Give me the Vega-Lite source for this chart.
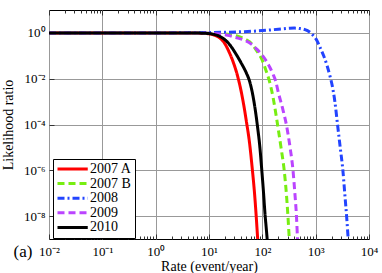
{
  "$schema": "https://vega.github.io/schema/vega-lite/v6.json",
  "width": 320,
  "height": 229,
  "autosize": {"type": "none"},
  "padding": {"left": 49, "top": 10, "right": 13, "bottom": 34},
  "background": "white",
  "config": {
    "view": {"stroke": "black", "strokeWidth": 1},
    "font": "Liberation Serif",
    "axis": {
      "labelFont": "Liberation Serif",
      "titleFont": "Liberation Serif",
      "labelFontSize": 13,
      "titleFontSize": 14,
      "titleFontWeight": "normal",
      "labelColor": "black",
      "titleColor": "black",
      "domain": false,
      "gridColor": "#999999",
      "gridOpacity": 1,
      "gridWidth": 1,
      "tickColor": "#333333",
      "labelOverlap": false,
      "labelFlush": false,
      "labelBound": false
    },
    "legend": {
      "symbolType": "M-1,0H4.5",
      "symbolSize": 121,
      "symbolStrokeWidth": 3,
      "labelFont": "Liberation Serif",
      "labelFontSize": 14,
      "labelColor": "black",
      "labelOffset": 20,
      "padding": 3,
      "rowPadding": 0.6,
      "strokeColor": "black",
      "fillColor": "white",
      "cornerRadius": 0
    }
  },
  "layer": [
    {
      "data": {
        "values": [
          {"series": "2007 A", "rate": 0.01, "ratio": 1},
          {"series": "2007 A", "rate": 1, "ratio": 1},
          {"series": "2007 A", "rate": 3.162, "ratio": 0.9977},
          {"series": "2007 A", "rate": 6.31, "ratio": 0.977},
          {"series": "2007 A", "rate": 10, "ratio": 0.912},
          {"series": "2007 A", "rate": 12.59, "ratio": 0.794},
          {"series": "2007 A", "rate": 15.85, "ratio": 0.603},
          {"series": "2007 A", "rate": 19.95, "ratio": 0.331},
          {"series": "2007 A", "rate": 23.99, "ratio": 0.141},
          {"series": "2007 A", "rate": 28.18, "ratio": 0.0562},
          {"series": "2007 A", "rate": 33.11, "ratio": 0.0178},
          {"series": "2007 A", "rate": 37.15, "ratio": 0.00631},
          {"series": "2007 A", "rate": 43.65, "ratio": 0.001},
          {"series": "2007 A", "rate": 50.12, "ratio": 1.41e-4},
          {"series": "2007 A", "rate": 57.54, "ratio": 1.58e-5},
          {"series": "2007 A", "rate": 64.57, "ratio": 1.26e-6},
          {"series": "2007 A", "rate": 70.79, "ratio": 1.26e-7},
          {"series": "2007 A", "rate": 76.74, "ratio": 1e-8},
          {"series": "2007 A", "rate": 81.28, "ratio": 1.26e-9},
          {"series": "2007 A", "rate": 85.11, "ratio": 2.51e-10},

          {"series": "2007 B", "rate": 0.01, "ratio": 1},
          {"series": "2007 B", "rate": 1, "ratio": 1},
          {"series": "2007 B", "rate": 6.31, "ratio": 0.9931},
          {"series": "2007 B", "rate": 10, "ratio": 0.977},
          {"series": "2007 B", "rate": 15.85, "ratio": 0.933},
          {"series": "2007 B", "rate": 25.12, "ratio": 0.832},
          {"series": "2007 B", "rate": 35.48, "ratio": 0.708},
          {"series": "2007 B", "rate": 50.12, "ratio": 0.501},
          {"series": "2007 B", "rate": 63.1, "ratio": 0.339},
          {"series": "2007 B", "rate": 79.43, "ratio": 0.158},
          {"series": "2007 B", "rate": 100, "ratio": 0.0631},
          {"series": "2007 B", "rate": 117.5, "ratio": 0.0224},
          {"series": "2007 B", "rate": 131.8, "ratio": 0.01},
          {"series": "2007 B", "rate": 158.5, "ratio": 0.00158},
          {"series": "2007 B", "rate": 192.8, "ratio": 1e-4},
          {"series": "2007 B", "rate": 223.9, "ratio": 1e-5},
          {"series": "2007 B", "rate": 257, "ratio": 1e-6},
          {"series": "2007 B", "rate": 281.8, "ratio": 1e-7},
          {"series": "2007 B", "rate": 302, "ratio": 1e-8},
          {"series": "2007 B", "rate": 319.9, "ratio": 1e-9},
          {"series": "2007 B", "rate": 331.1, "ratio": 2.51e-10},

          {"series": "2008", "rate": 0.01, "ratio": 1},
          {"series": "2008", "rate": 1, "ratio": 1},
          {"series": "2008", "rate": 3.162, "ratio": 1.007},
          {"series": "2008", "rate": 10, "ratio": 1.035},
          {"series": "2008", "rate": 31.62, "ratio": 1.096},
          {"series": "2008", "rate": 100, "ratio": 1.259},
          {"series": "2008", "rate": 199.5, "ratio": 1.445},
          {"series": "2008", "rate": 316.2, "ratio": 1.585},
          {"series": "2008", "rate": 398.1, "ratio": 1.622},
          {"series": "2008", "rate": 501.2, "ratio": 1.549},
          {"series": "2008", "rate": 631, "ratio": 1.38},
          {"series": "2008", "rate": 758.6, "ratio": 1.122},
          {"series": "2008", "rate": 891.3, "ratio": 0.794},
          {"series": "2008", "rate": 1047, "ratio": 0.479},
          {"series": "2008", "rate": 1202, "ratio": 0.24},
          {"series": "2008", "rate": 1413, "ratio": 0.1},
          {"series": "2008", "rate": 1622, "ratio": 0.0398},
          {"series": "2008", "rate": 1862, "ratio": 0.0126},
          {"series": "2008", "rate": 2042, "ratio": 0.00501},
          {"series": "2008", "rate": 2291, "ratio": 0.001},
          {"series": "2008", "rate": 2570, "ratio": 1e-4},
          {"series": "2008", "rate": 2884, "ratio": 1e-5},
          {"series": "2008", "rate": 3236, "ratio": 1e-6},
          {"series": "2008", "rate": 3508, "ratio": 1e-7},
          {"series": "2008", "rate": 3802, "ratio": 1e-8},
          {"series": "2008", "rate": 4074, "ratio": 1e-9},
          {"series": "2008", "rate": 4266, "ratio": 2.51e-10},

          {"series": "2009", "rate": 0.01, "ratio": 1},
          {"series": "2009", "rate": 1, "ratio": 1},
          {"series": "2009", "rate": 6.31, "ratio": 0.9886},
          {"series": "2009", "rate": 10, "ratio": 0.966},
          {"series": "2009", "rate": 15.85, "ratio": 0.891},
          {"series": "2009", "rate": 25.12, "ratio": 0.741},
          {"series": "2009", "rate": 31.62, "ratio": 0.631},
          {"series": "2009", "rate": 43.65, "ratio": 0.501},
          {"series": "2009", "rate": 63.1, "ratio": 0.316},
          {"series": "2009", "rate": 79.43, "ratio": 0.1905},
          {"series": "2009", "rate": 100, "ratio": 0.1047},
          {"series": "2009", "rate": 120.2, "ratio": 0.0562},
          {"series": "2009", "rate": 138, "ratio": 0.0316},
          {"series": "2009", "rate": 158.5, "ratio": 0.0158},
          {"series": "2009", "rate": 177.8, "ratio": 0.00794},
          {"series": "2009", "rate": 199.5, "ratio": 0.00251},
          {"series": "2009", "rate": 239.9, "ratio": 5.01e-4},
          {"series": "2009", "rate": 281.8, "ratio": 1e-4},
          {"series": "2009", "rate": 331.1, "ratio": 1e-5},
          {"series": "2009", "rate": 375.8, "ratio": 1e-6},
          {"series": "2009", "rate": 407.4, "ratio": 1e-7},
          {"series": "2009", "rate": 436.5, "ratio": 1e-8},
          {"series": "2009", "rate": 457.1, "ratio": 1e-9},
          {"series": "2009", "rate": 473.2, "ratio": 2.51e-10},

          {"series": "2010", "rate": 0.01, "ratio": 1},
          {"series": "2010", "rate": 1, "ratio": 1},
          {"series": "2010", "rate": 3.162, "ratio": 0.9977},
          {"series": "2010", "rate": 6.31, "ratio": 0.9817},
          {"series": "2010", "rate": 10, "ratio": 0.933},
          {"series": "2010", "rate": 12.59, "ratio": 0.851},
          {"series": "2010", "rate": 15.85, "ratio": 0.708},
          {"series": "2010", "rate": 19.95, "ratio": 0.501},
          {"series": "2010", "rate": 25.12, "ratio": 0.282},
          {"series": "2010", "rate": 31.62, "ratio": 0.126},
          {"series": "2010", "rate": 39.81, "ratio": 0.0501},
          {"series": "2010", "rate": 50.12, "ratio": 0.0178},
          {"series": "2010", "rate": 57.54, "ratio": 0.00794},
          {"series": "2010", "rate": 66.07, "ratio": 0.002},
          {"series": "2010", "rate": 74.13, "ratio": 3.98e-4},
          {"series": "2010", "rate": 81.28, "ratio": 7.94e-5},
          {"series": "2010", "rate": 89.13, "ratio": 1.26e-5},
          {"series": "2010", "rate": 97.72, "ratio": 1e-6},
          {"series": "2010", "rate": 104.7, "ratio": 1.26e-7},
          {"series": "2010", "rate": 112.2, "ratio": 1.26e-8},
          {"series": "2010", "rate": 120.2, "ratio": 2e-9},
          {"series": "2010", "rate": 128.8, "ratio": 2.51e-10}
        ]
      },
      "mark": {"type": "line", "strokeWidth": 3, "clip": true, "interpolate": "monotone"},
      "encoding": {
        "x": {
          "field": "rate",
          "type": "quantitative",
          "scale": {"type": "log", "domain": [0.01, 10000], "nice": false},
          "axis": {
            "orient": "bottom",
            "title": "Rate (event/year)",
            "values": [0.01,0.02,0.03,0.04,0.05,0.06,0.07,0.08,0.09,0.1,0.2,0.3,0.4,0.5,0.6,0.7,0.8,0.9,1,2,3,4,5,6,7,8,9,10,20,30,40,50,60,70,80,90,100,200,300,400,500,600,700,800,900,1000,2000,3000,4000,5000,6000,7000,8000,9000,10000],
            "labelExpr": "abs(log(datum.value)/LN10 - round(log(datum.value)/LN10)) > 0.001 ? '' : round(log(datum.value)/LN10) == -2 ? '10⁻²' : round(log(datum.value)/LN10) == -1 ? '10⁻¹' : round(log(datum.value)/LN10) == 0 ? '10⁰' : round(log(datum.value)/LN10) == 1 ? '10¹' : round(log(datum.value)/LN10) == 2 ? '10²' : round(log(datum.value)/LN10) == 3 ? '10³' : '10⁴'",
            "grid": true,
            "gridOpacity": {"condition": {"test": "abs(log(datum.value)/LN10 - round(log(datum.value)/LN10)) < 0.001", "value": 1}, "value": 0},
            "tickSize": {"condition": {"test": "abs(log(datum.value)/LN10 - round(log(datum.value)/LN10)) < 0.001", "value": -5}, "value": -3},
            "labelPadding": 11,
            "titlePadding": -1
          }
        },
        "y": {
          "field": "ratio",
          "type": "quantitative",
          "scale": {"type": "log", "domain": [1e-9, 10], "nice": false},
          "axis": {
            "title": "Likelihood ratio",
            "values": [1, 0.01, 0.0001, 0.000001, 0.00000001],
            "labelExpr": "datum.value > 0.5 ? '10⁰' : datum.value > 0.005 ? '10⁻²' : datum.value > 0.00005 ? '10⁻⁴' : datum.value > 0.0000005 ? '10⁻⁶' : '10⁻⁸'",
            "grid": true,
            "tickSize": -5,
            "labelPadding": 9,
            "titlePadding": 8
          }
        },
        "color": {
          "field": "series",
          "type": "nominal",
          "scale": {"domain": ["2007 A", "2007 B", "2008", "2009", "2010"], "range": ["#ff0000", "#77ee11", "#2244ff", "#bb44ff", "#000000"]},
          "legend": {"title": null, "orient": "none", "legendX": 4, "legendY": 149}
        },
        "strokeDash": {
          "field": "series",
          "type": "nominal",
          "scale": {"domain": ["2007 A", "2007 B", "2008", "2009", "2010"], "range": [[1, 0], [7, 4], [7, 3, 2, 3], [7, 4], [1, 0]]},
          "legend": {"title": null, "orient": "none", "legendX": 4, "legendY": 149}
        }
      }
    },
    {
      "data": {"values": [{"label": "(a)"}]},
      "mark": {"type": "text", "font": "Liberation Serif", "fontSize": 17, "align": "center", "baseline": "middle", "dx": -26, "dy": 13, "color": "black"},
      "encoding": {
        "x": {
          "datum": 0.01,
          "type": "quantitative",
          "axis": {
            "orient": "top",
            "title": null,
            "labels": false,
            "grid": false,
            "values": [0.01,0.02,0.03,0.04,0.05,0.06,0.07,0.08,0.09,0.1,0.2,0.3,0.4,0.5,0.6,0.7,0.8,0.9,1,2,3,4,5,6,7,8,9,10,20,30,40,50,60,70,80,90,100,200,300,400,500,600,700,800,900,1000,2000,3000,4000,5000,6000,7000,8000,9000,10000],
            "tickSize": {"condition": {"test": "abs(log(datum.value)/LN10 - round(log(datum.value)/LN10)) < 0.001", "value": -5}, "value": -3}
          }
        },
        "y": {"datum": 1e-9, "type": "quantitative"},
        "text": {"field": "label"}
      }
    }
  ]
}
